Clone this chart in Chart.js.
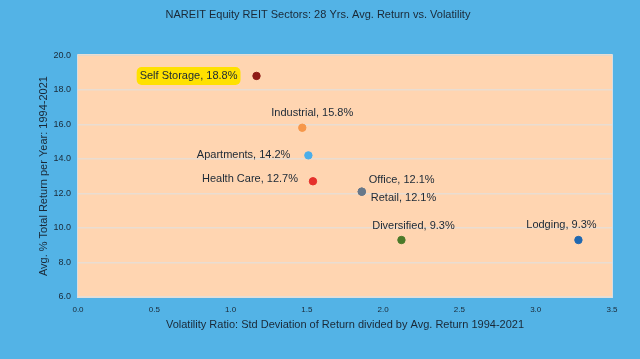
<!DOCTYPE html>
<html>
<head>
<meta charset="utf-8">
<script src="https://cdn.jsdelivr.net/npm/chart.js@4"></script>
<style>
  html, body { margin: 0; padding: 0; background: #53B3E6; }
  #wrap { width: 640px; height: 359px; }
</style>
</head>
<body>
<div id="wrap"><canvas id="reitChart" width="640" height="359"></canvas></div>
<script>
const sectors = ['Self Storage', 'Industrial', 'Apartments', 'Health Care', 'Office', 'Retail', 'Diversified', 'Lodging'];
const volatility = [1.17, 1.47, 1.51, 1.54, 1.86, 1.86, 2.12, 3.28];
const avgReturn = [18.8, 15.8, 14.2, 12.7, 12.1, 12.1, 9.3, 9.3];
const dotColors = ['#8E1B16', '#F6974A', '#4AAEEA', '#E5302B', '#67788A', '#67788A', '#4B7A29', '#2068B0'];
const xTicks = [0, 0.5, 1, 1.5, 2, 2.5, 3, 3.5];
const yTicks = [6, 8, 10, 12, 14, 16, 18, 20];

// label placement relative to its dot: [dx, dy, align]
const labelPos = [
  [-19, 0, 'right'],
  [10, -15, 'center'],
  [-18, 0, 'right'],
  [-15, -2, 'right'],
  [7, -12, 'left'],
  [9, 6, 'left'],
  [12, -14, 'center'],
  [-17, -15, 'center']
];

const textColor = '#1A2836';

const bgPlugin = {
  id: 'bg',
  beforeDraw(chart) {
    const { ctx, chartArea: a } = chart;
    ctx.save();
    ctx.fillStyle = '#53B3E6';
    ctx.fillRect(0, 0, chart.width, chart.height);
    ctx.fillStyle = '#FFD5B1';
    ctx.fillRect(a.left, a.top, a.right - a.left, a.bottom - a.top);
    ctx.strokeStyle = '#D9DDE0';
    ctx.lineWidth = 1;
    ctx.strokeRect(a.left - 0.5, a.top - 0.5, a.right - a.left + 1, a.bottom - a.top + 1);
    ctx.restore();
  }
};

const labelPlugin = {
  id: 'pointLabels',
  afterDatasetsDraw(chart) {
    const { ctx } = chart;
    const meta = chart.getDatasetMeta(0);
    ctx.save();
    ctx.font = '11px "Liberation Sans", Arial, sans-serif';
    ctx.textBaseline = 'middle';
    meta.data.forEach((pt, i) => {
      const [dx, dy, align] = labelPos[i];
      const txt = sectors[i] + ', ' + avgReturn[i].toFixed(1) + '%';
      const x = pt.x + dx, y = pt.y + dy;
      ctx.textAlign = align;
      if (i === 0) {
        const w = ctx.measureText(txt).width;
        ctx.fillStyle = '#FFE100';
        const left = align === 'right' ? x - w : x;
        ctx.beginPath();
        ctx.roundRect(left - 3, y - 9, w + 6, 18, 5);
        ctx.fill();
      }
      ctx.fillStyle = textColor;
      ctx.fillText(txt, x, y);
    });
    ctx.restore();
  }
};

new Chart(document.getElementById('reitChart'), {
  type: 'scatter',
  data: {
    datasets: [{
      label: 'REIT sectors',
      data: volatility.map((v, i) => ({ x: v, y: avgReturn[i] })),
      backgroundColor: dotColors,
      borderColor: dotColors,
      pointRadius: 3.7,
      pointHoverRadius: 3.7
    }]
  },
  options: {
    responsive: false,
    animation: false,
    layout: { padding: { left: 24, right: 28, top: 0, bottom: 0 } },
    plugins: {
      legend: { display: false },
      tooltip: { enabled: false },
      title: {
        display: true,
        text: 'NAREIT Equity REIT Sectors: 28 Yrs. Avg. Return vs. Volatility',
        color: textColor,
        font: { family: '"Liberation Sans", Arial, sans-serif', size: 11, weight: 'normal' },
        padding: { top: 8, bottom: 34 }
      }
    },
    scales: {
      x: {
        type: 'linear',
        min: 0,
        max: 3.5,
        afterBuildTicks(axis) { axis.ticks = xTicks.map(v => ({ value: v })); },
        afterFit(axis) { axis.height = 62; },
        grid: { display: false, drawTicks: false },
        border: { display: false },
        ticks: {
          color: textColor,
          padding: 8,
          font: { family: '"Liberation Sans", Arial, sans-serif', size: 8 },
          callback: v => v.toFixed(1)
        },
        title: {
          display: true,
          text: 'Volatility Ratio: Std Deviation of Return divided by Avg. Return 1994-2021',
          color: textColor,
          font: { family: '"Liberation Sans", Arial, sans-serif', size: 11 },
          padding: { top: 0, bottom: 27 }
        }
      },
      y: {
        type: 'linear',
        min: 6,
        max: 20,
        afterBuildTicks(axis) { axis.ticks = yTicks.map(v => ({ value: v })); },
        afterFit(axis) { axis.width = 54; },
        grid: { color: '#E9DDD2', lineWidth: 1.5, drawTicks: false },
        border: { display: false },
        ticks: {
          color: textColor,
          padding: 7,
          font: { family: '"Liberation Sans", Arial, sans-serif', size: 9 },
          callback: v => v.toFixed(1)
        },
        title: {
          display: true,
          text: 'Avg. % Total Return per Year: 1994-2021',
          color: textColor,
          font: { family: '"Liberation Sans", Arial, sans-serif', size: 11 },
          padding: { top: 13, bottom: 0 }
        }
      }
    }
  },
  plugins: [bgPlugin, labelPlugin]
});
</script>
</body>
</html>
